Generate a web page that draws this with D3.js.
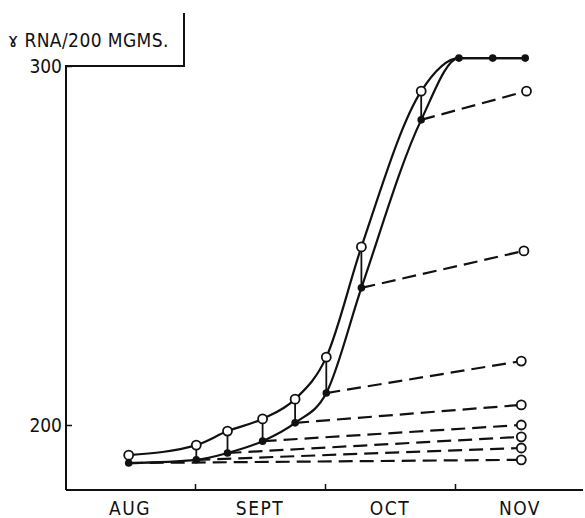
<!DOCTYPE html>
<html>
<head>
<meta charset="utf-8">
<script src="https://cdn.jsdelivr.net/npm/d3@7"></script>
<style>
  body { margin: 0; background: #fff; }
  text { font-family: "DejaVu Sans Condensed", "DejaVu Sans", sans-serif; fill: #111; }
</style>
</head>
<body>
<div id="chart"></div>
<script>
// month bands on the x axis, x values are in months from 1 Aug
var months = ["AUG", "SEPT", "OCT", "NOV"];
var yTicks = [200, 300];

// sampling dates and the two curves (open = upper, filled = lower)
var sampleMonths = [0.49, 1.01, 1.25, 1.52, 1.77, 2.01, 2.28, 2.74];
var openValues   = [191.6, 194.4, 198.3, 201.7, 207.2, 218.9, 249.6, 293.0];
var filledValues = [189.4, 190.3, 192.2, 195.5, 200.6, 208.9, 238.2, 285.0];

// plateau at the top
var plateauMonths = [3.03, 3.29, 3.54];
var plateauValues = [302.2, 302.2, 302.2];

// end points of the dashed lines (one per filled point)
var endMonths = [3.51, 3.51, 3.51, 3.51, 3.51, 3.51, 3.53, 3.55];
var endValues = [190.3, 193.6, 196.7, 200.0, 205.6, 217.8, 248.5, 293.0];

var width = 585, height = 518;

var svg = d3.select("#chart")
  .append("svg")
    .attr("width", width)
    .attr("height", height);

var x = d3.scaleLinear().domain([0, 4]).range([65, 585]);
var y = d3.scaleLinear().domain([200, 300]).range([425, 66]);
var yBottom = 181.9;

var ink = "#111";

// frame: y axis, box round the label, x axis
svg.append("path")
  .attr("d", d3.line()([
    [x(0) + 1, y(yBottom)],
    [x(0) + 1, y(300)],
    [184, y(300)],
    [184, 13]
  ]))
  .attr("fill", "none")
  .attr("stroke", ink)
  .attr("stroke-width", 2);

svg.append("line")
  .attr("x1", x(0) + 1).attr("x2", 583)
  .attr("y1", y(yBottom)).attr("y2", y(yBottom))
  .attr("stroke", ink)
  .attr("stroke-width", 2);

// x ticks at month boundaries, pointing up
var xAxis = svg.append("g")
  .attr("transform", "translate(0," + y(yBottom) + ")")
  .call(d3.axisBottom(x).tickValues([1, 2, 3]).tickSize(-6).tickFormat(""));
xAxis.select(".domain").remove();
xAxis.selectAll("line").attr("stroke", ink).attr("stroke-width", 1.5);

// month labels in the middle of each band
var band = d3.scaleBand().domain(months).range([65, 585]);
var mAxis = svg.append("g")
  .attr("transform", "translate(0," + y(yBottom) + ")")
  .call(d3.axisBottom(band).tickSize(0).tickPadding(12));
mAxis.select(".domain").remove();
mAxis.selectAll("text")
  .attr("dy", "0.71em")
  .style("font-size", "19px")
  .style("letter-spacing", "1.5px")
  .style("font-family", "DejaVu Sans Condensed");

// y axis ticks
var yAxis = svg.append("g")
  .attr("transform", "translate(" + (x(0) + 1) + ",0)")
  .call(d3.axisLeft(y).tickValues(yTicks).tickSize(-6).tickPadding(4));
yAxis.select(".domain").remove();
yAxis.selectAll("line").attr("stroke", ink).attr("stroke-width", 1.5);
yAxis.selectAll("text")
  .style("font-size", "19px")
  .style("font-family", "DejaVu Sans Condensed");

// title
svg.append("text")
  .attr("x", 8)
  .attr("y", 47)
  .style("font-size", "19px")
  .style("letter-spacing", "0.4px")
  .text("ɤ RNA/200 MGMS.");

var line = d3.line()
  .x(function(d) { return x(d[0]); })
  .y(function(d) { return y(d[1]); })
  .curve(d3.curveMonotoneX);

var plateau = plateauMonths.map(function(m, i) { return [m, plateauValues[i]]; });
var upper = sampleMonths.map(function(m, i) { return [m, openValues[i]]; }).concat(plateau);
var lower = sampleMonths.map(function(m, i) { return [m, filledValues[i]]; }).concat(plateau);

// dashed lines from the lower curve out to Nov
svg.append("g").selectAll("line")
  .data(sampleMonths)
  .enter()
  .append("line")
    .attr("x1", function(d) { return x(d); })
    .attr("y1", function(d, i) { return y(filledValues[i]); })
    .attr("x2", function(d, i) { return x(endMonths[i]); })
    .attr("y2", function(d, i) { return y(endValues[i]); })
    .attr("stroke", ink)
    .attr("stroke-width", 2.2)
    .attr("stroke-dasharray", "14,7");

// the two curves
svg.append("path")
  .attr("d", line(upper))
  .attr("fill", "none")
  .attr("stroke", ink)
  .attr("stroke-width", 2.2);

svg.append("path")
  .attr("d", line(lower))
  .attr("fill", "none")
  .attr("stroke", ink)
  .attr("stroke-width", 2.2);

// vertical connectors between open and filled points
svg.append("g").selectAll("line")
  .data(sampleMonths)
  .enter()
  .append("line")
    .attr("x1", function(d) { return x(d); })
    .attr("x2", function(d) { return x(d); })
    .attr("y1", function(d, i) { return y(openValues[i]); })
    .attr("y2", function(d, i) { return y(filledValues[i]); })
    .attr("stroke", ink)
    .attr("stroke-width", 1.8);

// filled points
svg.append("g").selectAll("circle")
  .data(lower)
  .enter()
  .append("circle")
    .attr("cx", function(d) { return x(d[0]); })
    .attr("cy", function(d) { return y(d[1]); })
    .attr("r", 3.8)
    .attr("fill", ink);

// open points on the upper curve
svg.append("g").selectAll("circle")
  .data(sampleMonths)
  .enter()
  .append("circle")
    .attr("cx", function(d) { return x(d); })
    .attr("cy", function(d, i) { return y(openValues[i]); })
    .attr("r", 4.5)
    .attr("fill", "#fff")
    .attr("stroke", ink)
    .attr("stroke-width", 1.8);

// open points at the end of the dashed lines
svg.append("g").selectAll("circle")
  .data(endMonths)
  .enter()
  .append("circle")
    .attr("cx", function(d) { return x(d); })
    .attr("cy", function(d, i) { return y(endValues[i]); })
    .attr("r", 4.5)
    .attr("fill", "#fff")
    .attr("stroke", ink)
    .attr("stroke-width", 1.8);
</script>
</body>
</html>
